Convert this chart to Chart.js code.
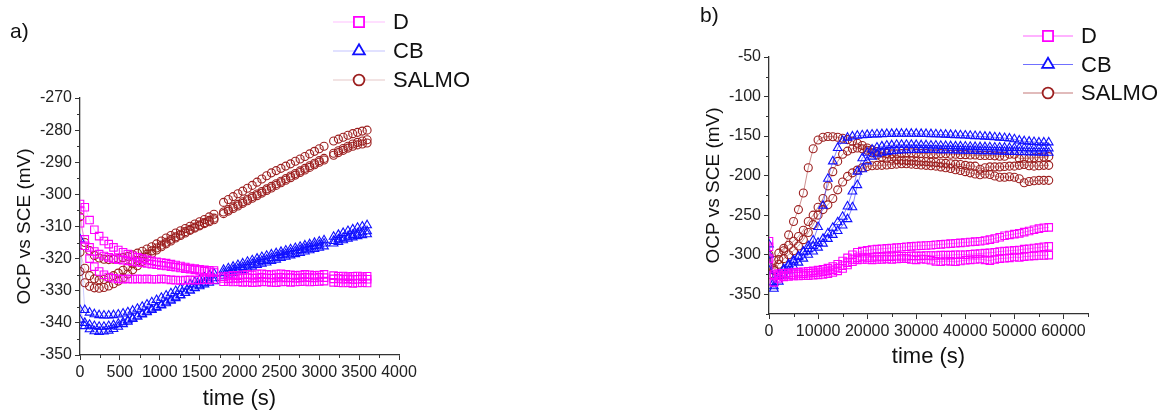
<!DOCTYPE html>
<html>
<head>
<meta charset="utf-8">
<script src="https://cdn.jsdelivr.net/npm/chart.js@4.4.1/dist/chart.umd.min.js"></script>
<style>
  body { margin: 0; background: #fff; width: 1162px; height: 412px; position: relative; overflow: hidden; }
  canvas { position: absolute; top: 0; }
  #chartA { left: 0; }
  #chartB { left: 581px; }
</style>
</head>
<body>
<canvas id="chartA" width="581" height="412"></canvas>
<canvas id="chartB" width="581" height="412"></canvas>
<script>
// ---- a) short immersion, 1 h ----
const timeA = [0,60,120,180,240,300,360,420,480,540,600,660,720,780,840,900,960,1020,1080,1140,
  1200,1260,1320,1380,1440,1500,1560,1620,1680,1740,1800,1860,1920,1980,2040,2100,2160,2220,2280,2340,
  2400,2460,2520,2580,2640,2700,2760,2820,2880,2940,3000,3060,3120,3180,3240,3300,3360,3420,3480,3540,3600];

const dA1 = [-303,-304,-308,-311,-313,-314.5,-315.5,-316.5,-317.3,-318,
  -318.6,-319.1,-319.6,-320,-320.4,-320.7,-321,-321.2,-321.4,-321.7,
  -322,-322.3,-322.6,-322.9,-323.1,-323.3,-323.5,-323.6,-323.7,null,
  -325.6,-325.4,-325.2,-325.3,-325,-324.9,-325.1,-324.8,-324.7,-324.9,
  -325,-324.8,-324.7,-324.9,-325,-325.2,-325.1,-324.9,-325,-325.2,
  -325.1,-324.9,null,-325.3,-325.5,-325.4,-325.6,-325.5,-325.4,-325.6,-325.5];
const dA2 = [-309,-314,-316.5,-317.8,-318.6,-319.2,-319.6,-320,-320.3,-320.5,
  -320.7,-320.9,-321.1,-321.3,-321.5,-321.7,-321.9,-322.1,-322.3,-322.5,
  -322.7,-322.9,-323.1,-323.3,-323.5,-323.7,-323.9,-324.1,-324.3,null,
  -326.2,-326.3,-326.1,-326.2,-326,-325.9,-326.1,-326,-325.8,-326,
  -326.1,-325.9,-325.8,-326,-325.9,-326.1,-326,-325.8,-325.9,-326,
  -325.8,-325.9,null,-326.3,-326.2,-326.4,-326.3,-326.5,-326.4,-326.3,-326.4];
const dA3 = [-305,-316,-320,-322.5,-324,-325,-325.7,-326.1,-326.3,-326.4,
  -326.3,-326.4,-326.3,-326.4,-326.3,-326.4,-326.4,-326.3,-326.4,-326.6,
  -326.7,-326.8,-326.7,-326.6,-326.7,-326.6,-326.5,-326.6,-326.5,null,
  -327.2,-327.1,-327.3,-327.2,-327.4,-327.3,-327.5,-327.4,-327.2,-327.3,
  -327.4,-327.5,-327.3,-327.2,-327.4,-327.3,-327.2,-327.1,-327.3,-327.2,
  -327.1,-327,null,-327.4,-327.5,-327.6,-327.5,-327.7,-327.6,-327.5,-327.6];

const cbA1 = [-314,-336,-336.8,-337.3,-337.6,-337.7,-337.7,-337.6,-337.4,-337.1,
  -336.7,-336.2,-335.6,-335,-334.3,-333.6,-332.9,-332.2,-331.5,-330.8,
  -330.1,-329.4,-328.7,-328,-327.3,-326.6,-325.9,-325.2,-324.6,null,
  -323.5,-323,-322.5,-322,-321.5,-321,-320.5,-320,-319.5,-319.1,
  -318.7,-318.3,-317.9,-317.5,-317.1,-316.7,-316.3,-315.9,-315.5,-315.1,
  -314.7,-314.3,null,-313.2,-312.6,-312,-311.4,-310.9,-310.4,-310,-309.6];
const cbA2 = [-336,-340,-340.6,-341,-341.2,-341.2,-341,-340.7,-340.3,-339.8,
  -339.2,-338.6,-338,-337.4,-336.7,-336,-335.3,-334.6,-333.9,-333.1,
  -332.3,-331.5,-330.7,-329.9,-329.1,-328.3,-327.5,-326.8,-326.1,null,
  -324.5,-324,-323.5,-323.1,-322.6,-322.1,-321.6,-321.2,-320.7,-320.3,
  -319.8,-319.4,-318.9,-318.5,-318.1,-317.7,-317.3,-316.9,-316.5,-316.1,
  -315.7,-315.3,null,-314.5,-314,-313.5,-313.1,-312.6,-312.2,-311.8,-311.5];
const cbA3 = [-339,-341,-342,-342.6,-342.8,-342.7,-342.4,-341.9,-341.2,-340.4,
  -339.6,-338.8,-338,-337.2,-336.5,-335.8,-335.1,-334.4,-333.6,-332.8,
  -332,-331.3,-330.6,-329.9,-329.2,-328.6,-328,-327.5,-327,null,
  -325.5,-325,-324.5,-324,-323.5,-323,-322.5,-322,-321.6,-321.2,
  -320.7,-320.3,-319.8,-319.4,-319,-318.6,-318.2,-317.8,-317.4,-317,
  -316.6,-316.2,null,-315.3,-314.8,-314.3,-313.8,-313.4,-313,-312.7,-312.4];

const sA1 = [-307,-315,-317.5,-319,-319.8,-320.2,-320.3,-320.2,-320,-319.7,
  -319.3,-318.8,-318.3,-317.7,-317,-316.3,-315.4,-314.5,-313.6,-312.8,
  -312,-311.3,-310.6,-309.9,-309.2,-308.5,-307.8,-307,-306.2,null,
  -302.5,-301.6,-300.7,-299.8,-299,-298.1,-297.2,-296.2,-295.2,-294.2,
  -293.3,-292.6,-291.9,-291.2,-290.5,-289.7,-289,-288.2,-287.4,-286.6,
  -285.8,-285,null,-283.4,-282.8,-282.2,-281.6,-281.1,-280.7,-280.3,-280];
const sA2 = [-318,-323,-325.3,-326.3,-326.6,-326.5,-326,-325.3,-324.5,-323.6,
  -322.6,-321.6,-320.6,-319.6,-318.6,-317.6,-316.7,-315.8,-314.9,-314,
  -313.2,-312.4,-311.6,-310.9,-310.2,-309.5,-308.8,-308.1,-307.4,null,
  -305.5,-304.7,-303.9,-303.1,-302.3,-301.5,-300.7,-299.9,-299.1,-298.3,
  -297.5,-296.7,-295.9,-295.1,-294.3,-293.5,-292.7,-291.9,-291.1,-290.3,
  -289.5,-288.8,null,-287.2,-286.4,-285.7,-285,-284.3,-283.8,-283.4,-283];
const sA3 = [-324,-327.5,-328.6,-329.1,-329.2,-329,-328.5,-327.8,-327,-326,
  -324.8,-323.5,-322.2,-320.9,-319.6,-318.4,-317.3,-316.3,-315.4,-314.5,
  -313.6,-312.8,-312,-311.2,-310.5,-309.8,-309.1,-308.5,-307.9,null,
  -306,-305.2,-304.4,-303.6,-302.8,-302,-301.2,-300.4,-299.6,-298.8,
  -298,-297.2,-296.4,-295.6,-294.8,-294,-293.2,-292.4,-291.6,-290.8,
  -290,-289.3,null,-287.8,-287,-286.3,-285.6,-285,-284.6,-284.3,-284];

// ---- b) long immersion, 16 h ----
const timeB = [0,1000,2000,3000,4000,5000,6000,7000,8000,9000,
  10000,11000,12000,13000,14000,15000,16000,17000,18000,19000,
  20000,21000,22000,23000,24000,25000,26000,27000,28000,29000,
  30000,31000,32000,33000,34000,35000,36000,37000,38000,39000,
  40000,41000,42000,43000,44000,45000,46000,47000,48000,49000,
  50000,51000,52000,53000,54000,55000,56000,57000];

const dB1 = [-283,-325,-324,-323.5,-323,-322.5,-322,-321.5,-321,-320.5,
  -319.5,-318.5,-317,-315,-312,-308,-304,-300,-297,-295.5,
  -294.5,-293.5,-293,-292.5,-292,-291.5,-291,-290.5,-290,-289.5,
  -289,-288.7,-288.3,-288,-287.5,-287,-286.5,-286,-285.5,-285,
  -284.5,-284,-283.5,-283,-282,-281,-279.5,-278,-276,-275,
  -274,-273,-271.5,-270,-268.5,-267,-266,-265.5];
const dB2 = [-290,-327,-326.5,-326,-325.5,-325,-324.5,-324,-323.5,-323,
  -322.5,-321.5,-320.5,-319,-317,-314,-310,-306,-304,-303,
  -303.5,-303.5,-303,-303,-302.5,-302.5,-302,-302,-302,-301.5,
  -301.5,-301.5,-301,-301,-301,-300.5,-300.5,-300.5,-300,-300,
  -300,-299.5,-299,-298.5,-298,-297.5,-297,-296,-295.5,-295,
  -294.5,-294,-293,-292.5,-291.5,-291,-290,-289.5];
const dB3 = [-305,-335,-330,-328,-327.5,-327,-327,-326.5,-326.5,-326,
  -325.5,-325,-324,-322.5,-320.5,-317.5,-313,-309,-306.5,-306,
  -306,-306.5,-306,-306,-305.5,-306,-305.5,-305,-305,-306,
  -306.5,-305.5,-306,-307,-308.5,-309,-308,-308.5,-309,-308,
  -307,-306.5,-306,-305.5,-306.5,-307.5,-306,-305,-304.5,-304,
  -303,-303.5,-302.5,-302,-301.5,-301,-301,-300.5];

const cbB1 = [-287,-340,-327,-320,-314,-309,-303,-296,-289,-282,
  -265,-238,-204,-182,-165,-156,-152,-150.5,-149.5,-149,
  -148.5,-148,-147.8,-147.5,-147.3,-147.2,-147,-147,-147,-147,
  -147,-147.2,-147.3,-147.5,-147.7,-148,-148.2,-148.5,-148.8,-149,
  -149.3,-149.6,-150,-150.3,-150.7,-151,-151.5,-152,-152.5,-153,
  -154,-155.5,-156.5,-157,-157.5,-158,-158,-158];
const cbB2 = [-300,-335,-325,-318,-312,-307,-302,-297,-293,-289,
  -285,-280,-273,-266,-259,-252,-239,-220,-195,-178,
  -171,-167,-164.5,-163,-162,-161.5,-161,-161,-161,-161,
  -161.2,-161.5,-161.5,-162,-162,-162.3,-162.5,-162.7,-163,-163,
  -163.3,-163.5,-163.7,-164,-164,-164.2,-164.5,-164.5,-164.7,-165,
  -165,-165,-165.2,-165.5,-165.5,-165.5,-165.5,-165.5];
const cbB3 = [-320,-343,-334,-326,-320,-315,-310,-305,-300,-296,
  -291,-286,-280,-275,-270,-263,-255,-240,-212,-192,
  -182,-176,-173,-171,-170,-169,-168.5,-168,-168,-167.7,
  -167.5,-167.5,-167.5,-167.5,-167.7,-168,-168,-168,-168.2,-168.3,
  -168.5,-168.5,-168.7,-169,-169,-169.2,-169.4,-169.5,-169.7,-170,
  -170,-170.2,-170.4,-170.5,-170.6,-170.8,-171,-171];

const sB1 = [-300,-318,-306,-295,-275,-258,-243,-222,-190,-166,
  -155,-151.5,-150.5,-150.8,-151.5,-152.8,-154.5,-156.5,-159,-162,
  -165,-167.5,-169.5,-171,-172,-172.5,-172.5,-172,-171.5,-171,
  -171.5,-172,-172,-172.5,-172.5,-172,-172.5,-173,-173,-173.5,
  -173.5,-174,-174,-174.5,-174.5,-174.5,-175,-175.5,-175.5,-173,
  -173,-178.5,-178,-178,-177.5,-177,-176.5,-176];
const sB2 = [-315,-307,-298,-292,-288,-283,-277,-269,-258,-250,
  -240,-229,-213,-195,-182,-173,-169,-166,-165,-166,
  -168,-171,-174,-176.5,-178,-179,-180,-180.5,-181,-181.5,
  -182,-182,-182.5,-183,-183.5,-184,-184.5,-185,-185.5,-186,
  -187,-188,-188,-192,-190,-189,-189,-189,-188.5,-188,
  -188,-187,-186,-187.5,-188,-187.5,-187,-187];
const sB3 = [-325,-320,-312,-305,-300,-295,-289,-281,-272,-262,
  -250,-243,-237,-229,-218,-208,-201,-196.5,-193,-190,
  -188.5,-187.5,-187,-187,-186.5,-186,-185.5,-185,-185,-185.5,
  -186,-186.5,-187,-187.5,-188,-189,-190,-191,-192.5,-193.5,
  -195,-196.5,-198,-199,-198,-198.5,-200.5,-202,-202,-201.5,
  -202,-204,-209,-207.5,-206.5,-206,-206,-206];

// axis ticks
const xTicksA = [0,500,1000,1500,2000,2500,3000,3500,4000];
const yTicksA = [-350,-340,-330,-320,-310,-300,-290,-280,-270];
const xTicksB = [0,10000,20000,30000,40000,50000,60000];
const yTicksB = [-350,-300,-250,-200,-150,-100,-50];

const FONT = '"Liberation Sans", Arial, sans-serif';
const AXIS = '#333';
Chart.defaults.font.family = FONT;

const MAT = {
  D:     { label: 'D',     color: '#ff00ff', style: 'rect',     r: 5.3 },
  CB:    { label: 'CB',    color: '#1010ff', style: 'triangle', r: 5.0 },
  SALMO: { label: 'SALMO', color: '#9c1f1f', style: 'circle',   r: 4.0 }
};

function rgba(hex, a) {
  const n = parseInt(hex.slice(1), 16);
  return 'rgba(' + (n >> 16) + ',' + ((n >> 8) & 255) + ',' + (n & 255) + ',' + a + ')';
}

function series(times, vals, m, lineAlpha) {
  return {
    data: times.map((t, i) => ({ x: t, y: vals[i] })),
    borderColor: rgba(m.color, lineAlpha),
    borderWidth: 1,
    pointStyle: m.style,
    pointRadius: m.r,
    pointBorderColor: m.color,
    pointBorderWidth: 1.1,
    pointBackgroundColor: 'rgba(0,0,0,0)',
    tension: 0,
    spanGaps: false
  };
}

// midpoints between major ticks, plus one past the end when the axis runs on
function minors(majors, max) {
  const out = [];
  for (let i = 0; i < majors.length - 1; i++) out.push((majors[i] + majors[i + 1]) / 2);
  const step = majors[1] - majors[0];
  const last = majors[majors.length - 1] + step / 2;
  if (last <= max) out.push(last);
  return out;
}

const minorTicks = {
  id: 'minorTicks',
  afterDraw(chart, args, o) {
    const ctx = chart.ctx, xs = chart.scales.x, ys = chart.scales.y;
    ctx.save();
    ctx.strokeStyle = AXIS;
    ctx.lineWidth = 1;
    ctx.beginPath();
    o.x.forEach(v => {
      const px = Math.round(xs.getPixelForValue(v)) + 0.5;
      ctx.moveTo(px, xs.top); ctx.lineTo(px, xs.top + 3);
    });
    o.y.forEach(v => {
      const py = Math.round(ys.getPixelForValue(v)) + 0.5;
      ctx.moveTo(ys.right, py); ctx.lineTo(ys.right - 3, py);
    });
    ctx.stroke();
    ctx.restore();
  }
};

const panelDecor = {
  id: 'panelDecor',
  afterDraw(chart, args, o) {
    const ctx = chart.ctx;
    ctx.save();
    ctx.fillStyle = '#111';
    ctx.font = '21px ' + FONT;
    ctx.textBaseline = 'alphabetic';
    ctx.fillText(o.tag, o.tagX, o.tagY);
    o.items.forEach((m, i) => {
      const y = o.y + i * o.gap;
      ctx.strokeStyle = rgba(m.color, o.lineAlpha);
      ctx.lineWidth = 1.2;
      ctx.beginPath();
      ctx.moveTo(o.x, y); ctx.lineTo(o.x + o.len, y);
      ctx.stroke();
      ctx.strokeStyle = m.color;
      ctx.fillStyle = '#fff';
      ctx.lineWidth = 1.8;
      Chart.helpers.drawPoint(ctx, { pointStyle: m.style, radius: m.r * 1.35, rotation: 0, borderWidth: 1.8 }, o.x + o.len / 2, y);
      ctx.fillStyle = '#111';
      ctx.font = '22px ' + FONT;
      ctx.textBaseline = 'middle';
      ctx.fillText(m.label, o.x + o.len + 8, y + 1);
    });
    ctx.restore();
  }
};

function axis(ticks, min, max, title, size, titlePad, horizontal) {
  return {
    type: 'linear',
    min: min,
    max: max,
    afterBuildTicks: s => { s.ticks = ticks.map(v => ({ value: v })); },
    afterFit: s => { if (horizontal) s.height = size; else s.width = size; },
    border: { display: true, color: AXIS, width: 1.3 },
    grid: { drawOnChartArea: false, drawTicks: true, tickLength: 5, color: AXIS, lineWidth: 1 },
    ticks: {
      autoSkip: false, maxRotation: 0, minRotation: 0, padding: 3,
      color: '#222', font: { size: 16 },
      callback: v => String(v)
    },
    title: { display: true, text: title, color: '#111', font: { size: horizontal ? 22 : 19 }, padding: titlePad }
  };
}

function makeChart(id, sets, xAx, yAx, padding, decor, minor) {
  return new Chart(document.getElementById(id), {
    type: 'line',
    data: { datasets: sets },
    options: {
      responsive: false,
      animation: false,
      events: [],
      layout: { padding: padding },
      scales: { x: xAx, y: yAx },
      plugins: {
        legend: { display: false },
        tooltip: { enabled: false },
        minorTicks: minor,
        panelDecor: decor
      }
    },
    plugins: [minorTicks, panelDecor]
  });
}

const aSets = [
  series(timeA, dA1, MAT.D, 0.22), series(timeA, dA2, MAT.D, 0.22), series(timeA, dA3, MAT.D, 0.22),
  series(timeA, cbA1, MAT.CB, 0.22), series(timeA, cbA2, MAT.CB, 0.22), series(timeA, cbA3, MAT.CB, 0.22),
  series(timeA, sA1, MAT.SALMO, 0.22), series(timeA, sA2, MAT.SALMO, 0.22), series(timeA, sA3, MAT.SALMO, 0.22)
];
const bSets = [
  series(timeB, dB1, MAT.D, 0.5), series(timeB, dB2, MAT.D, 0.5), series(timeB, dB3, MAT.D, 0.5),
  series(timeB, cbB1, MAT.CB, 0.5), series(timeB, cbB2, MAT.CB, 0.5), series(timeB, cbB3, MAT.CB, 0.5),
  series(timeB, sB1, MAT.SALMO, 0.5), series(timeB, sB2, MAT.SALMO, 0.5), series(timeB, sB3, MAT.SALMO, 0.5)
];

makeChart('chartA', aSets,
  axis(xTicksA, 0, 4000, 'time (s)', 57, { top: 0, bottom: 0 }, true),
  axis(yTicksA, -350, -270, 'OCP vs SCE (mV)', 80, { top: 13, bottom: 0 }, false),
  { top: 98, right: 182, bottom: 0, left: 0 },
  { tag: 'a)', tagX: 10, tagY: 38, items: [MAT.D, MAT.CB, MAT.SALMO], x: 333, len: 52, y: 22, gap: 29, lineAlpha: 0.25 },
  { x: minors(xTicksA, 4000), y: minors(yTicksA, -270) }
);

makeChart('chartB', bSets,
  axis(xTicksB, 0, 65000, 'time (s)', 56, { top: 0, bottom: 0 }, true),
  axis(yTicksB, -375, -50, 'OCP vs SCE (mV)', 78, { top: 11, bottom: 0 }, false),
  { top: 57, right: 74, bottom: 42, left: 110 },
  { tag: 'b)', tagX: 119, tagY: 22, items: [MAT.D, MAT.CB, MAT.SALMO], x: 442, len: 50, y: 36, gap: 28.5, lineAlpha: 0.6 },
  { x: minors(xTicksB, 65000), y: [-375, -325, -275, -225, -175, -125, -75] }
);
</script>
</body>
</html>
